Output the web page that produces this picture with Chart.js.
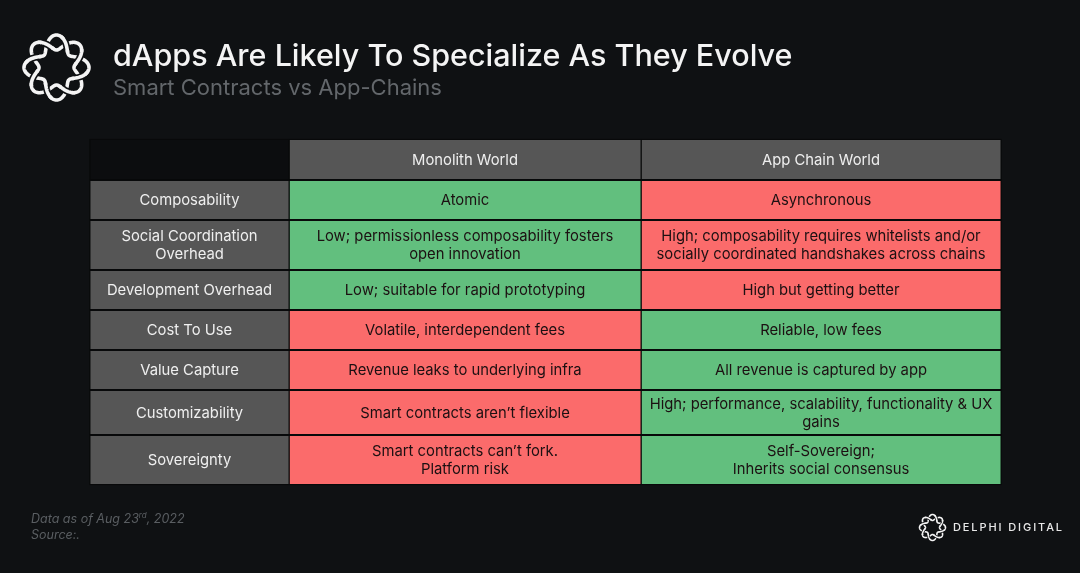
<!DOCTYPE html>
<html>
<head>
<meta charset="utf-8">
<title>dApps Are Likely To Specialize As They Evolve</title>
<script src="https://cdn.jsdelivr.net/npm/chart.js@4"></script>
<style>
  html, body { margin: 0; padding: 0; background: #0f1113; }
  #wrap { position: relative; width: 1080px; height: 573px; overflow: hidden; font-family: Inter, sans-serif; }
  canvas { position: absolute; left: 0; top: 0; }
  .txt { position: absolute; white-space: nowrap; }
  #title { left: 113px; top: 35px; font-size: 30.5px; line-height: 40px; font-weight: 500; color: #f4f4f4; }
  #subtitle { left: 113px; top: 73px; font-size: 22px; line-height: 28px; color: #63676b; }
  #note { left: 31px; top: 511px; font-size: 12.5px; line-height: 16px; font-style: italic; color: #5a5e62; }
  #note sup { font-size: 8px; line-height: 0; }
  #brand { left: 953px; top: 519px; font-size: 11px; line-height: 16px; font-weight: 500; letter-spacing: 1.9px; color: #e8e8e8; }
</style>
</head>
<body>
<div id="wrap">
  <canvas id="tableChart" width="1080" height="573"></canvas>
  <div class="txt" id="title">dApps Are Likely To Specialize As They Evolve</div>
  <div class="txt" id="subtitle">Smart Contracts vs App-Chains</div>
  <div class="txt" id="note">Data as of Aug 23<sup>rd</sup>, 2022<br>Source:.</div>
  <div class="txt" id="brand">DELPHI DIGITAL</div>
</div>
<script>
const GREEN = '#62bf7e';
const RED = '#fb6b6b';
const GREY = '#565656';
const CORNER = '#0c0d0f';
const LIGHT = '#efefef';
const DARK = '#1c1012';

// Table edges, in page pixels
const colEdges = [90, 289, 641, 1001];
const rowEdges = [139, 180, 220, 270, 310, 350, 390, 435, 485];

const table = [
    { head: [''], a: ['Monolith World'], b: ['App Chain World'], ca: GREY, cb: GREY },
    { head: ['Composability'], a: ['Atomic'], b: ['Asynchronous'], ca: GREEN, cb: RED },
    { head: ['Social Coordination', 'Overhead'],
      a: ['Low; permissionless composability fosters', 'open innovation'],
      b: ['High; composability requires whitelists and/or', 'socially coordinated handshakes across chains'], ca: GREEN, cb: RED },
    { head: ['Development Overhead'], a: ['Low; suitable for rapid prototyping'], b: ['High but getting better'], ca: GREEN, cb: RED },
    { head: ['Cost To Use'], a: ['Volatile, interdependent fees'], b: ['Reliable, low fees'], ca: RED, cb: GREEN },
    { head: ['Value Capture'], a: ['Revenue leaks to underlying infra'], b: ['All revenue is captured by app'], ca: RED, cb: GREEN },
    { head: ['Customizability'], a: ['Smart contracts aren\u2019t flexible'],
      b: ['High; performance, scalability, functionality & UX', 'gains'], ca: RED, cb: GREEN },
    { head: ['Sovereignty'], a: ['Smart contracts can\u2019t fork.', 'Platform risk'],
      b: ['Self-Sovereign;', 'Inherits social consensus'], ca: RED, cb: GREEN }
];

// One dataset per table column, one floating bar per row.
// All share one stack so the bars are not grouped side by side.
function columnDataset(col, colors) {
    const x0 = colEdges[col];
    const x1 = colEdges[col + 1];
    return {
        stack: 'table',
        data: table.map((row, i) => ({ x: (x0 + x1) / 2, y: [rowEdges[i], rowEdges[i + 1]] })),
        backgroundColor: colors,
        borderColor: '#08090a',
        borderWidth: 1.3,
        borderSkipped: false,
        barThickness: x1 - x0 + 1
    };
}

// Cell text
const cellText = {
    id: 'cellText',
    afterDatasetsDraw(chart) {
        const { ctx, scales: { x, y } } = chart;
        ctx.save();
        ctx.textAlign = 'center';
        ctx.textBaseline = 'middle';
        ctx.font = '14.8px Inter, sans-serif';
        table.forEach((row, i) => {
            const mid = y.getPixelForValue((rowEdges[i] + rowEdges[i + 1]) / 2) + 1;
            [row.head, row.a, row.b].forEach((lines, col) => {
                const cx = x.getPixelForValue((colEdges[col] + colEdges[col + 1]) / 2);
                ctx.fillStyle = (col === 0 || i === 0) ? LIGHT : DARK;
                lines.forEach((line, k) => {
                    ctx.fillText(line, cx, mid + (k - (lines.length - 1) / 2) * 18);
                });
            });
        });
        ctx.restore();
    }
};

// Logo: two wavy rings woven over and under each other
function strand(ctx, cx, cy, mean, amp, sign, from, to) {
    ctx.beginPath();
    for (let t = from; t <= to + 1e-6; t += 0.02) {
        const r = mean + sign * amp * Math.cos(4 * t);
        const px = cx + r * Math.cos(t);
        const py = cy + r * Math.sin(t);
        if (t === from) ctx.moveTo(px, py);
        else ctx.lineTo(px, py);
    }
    ctx.stroke();
}

function drawKnot(ctx, cx, cy, mean, amp, width) {
    ctx.save();
    ctx.lineCap = 'butt';
    ctx.strokeStyle = '#f4f4f4';
    ctx.lineWidth = width;
    strand(ctx, cx, cy, mean, amp, 1, 0, Math.PI * 2 + 0.03);
    strand(ctx, cx, cy, mean, amp, -1, 0, Math.PI * 2 + 0.03);
    for (let k = 0; k < 8; k++) {
        const t = Math.PI / 8 + k * Math.PI / 4;
        const sign = k % 2 === 0 ? 1 : -1;
        ctx.strokeStyle = '#0f1113';
        ctx.lineWidth = width * 1.9;
        strand(ctx, cx, cy, mean, amp, sign, t - 0.16, t + 0.16);
        ctx.strokeStyle = '#f4f4f4';
        ctx.lineWidth = width;
        strand(ctx, cx, cy, mean, amp, sign, t - 0.24, t + 0.24);
    }
    ctx.restore();
}

const logos = {
    id: 'logos',
    afterDraw(chart) {
        const { ctx } = chart;
        drawKnot(ctx, 56.5, 67.5, 25, 7.5, 3.6);
        drawKnot(ctx, 932.5, 527.5, 10, 3, 1.6);
    }
};

new Chart(document.getElementById('tableChart'), {
    type: 'bar',
    data: {
        datasets: [
            columnDataset(0, table.map((row, i) => i === 0 ? CORNER : GREY)),
            columnDataset(1, table.map(row => row.ca)),
            columnDataset(2, table.map(row => row.cb))
        ]
    },
    options: {
        responsive: false,
        animation: false,
        events: [],
        layout: { padding: 0 },
        plugins: {
            legend: { display: false },
            tooltip: { enabled: false }
        },
        scales: {
            x: { type: 'linear', min: 0, max: 1080, offset: false, stacked: true, display: false },
            y: { type: 'linear', min: 0, max: 573, reverse: true, stacked: false, display: false }
        }
    },
    plugins: [cellText, logos]
});
</script>
</body>
</html>
